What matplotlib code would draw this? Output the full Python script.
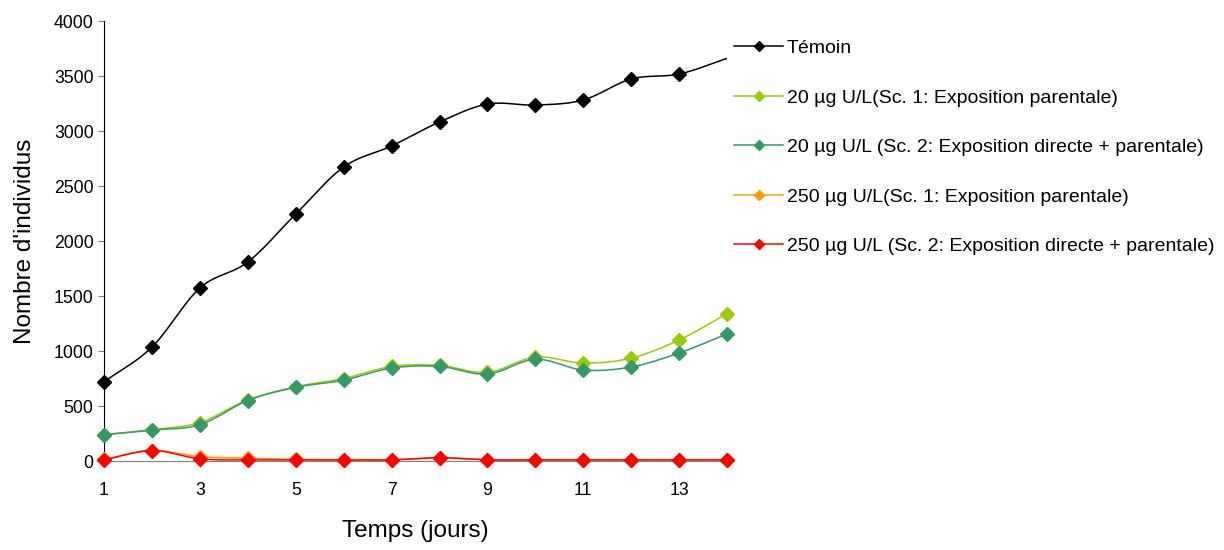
import numpy as np
import matplotlib
matplotlib.use("Agg")
import matplotlib.pyplot as plt

plt.rcParams['font.family'] = ['Liberation Sans', 'DejaVu Sans']

jours = list(range(1, 15))
temoin = [720, 1036, 1573, 1809, 2245, 2673, 2864, 3082, 3245, 3236, 3282, 3473, 3518, 3660]
u20_sc1 = [240, 285, 350, 555, 675, 750, 860, 870, 805, 945, 890, 936, 1100, 1340]
u20_sc2 = [240, 280, 330, 550, 670, 735, 845, 860, 790, 925, 827, 855, 982, 1155]
u250_sc1 = [15, 95, 40, 25, 15, 12, 12, 30, 12, 12, 12, 12, 12, 12]
u250_sc2 = [10, 95, 20, 10, 10, 10, 10, 30, 10, 10, 10, 10, 10, 10]

series = [
    ("Témoin", temoin, "#000000"),
    ("20 µg U/L(Sc. 1: Exposition parentale)", u20_sc1, "#99CC00"),
    ("20 µg U/L (Sc. 2: Exposition directe + parentale)", u20_sc2, "#339966"),
    ("250 µg U/L(Sc. 1: Exposition parentale)", u250_sc1, "#FF9900"),
    ("250 µg U/L (Sc. 2: Exposition directe + parentale)", u250_sc2, "#FF0000"),
]


def smooth(x, y, n=20):
    # catmull-rom, like excel smoothed lines
    x = np.asarray(x, float)
    y = np.asarray(y, float)
    px = np.concatenate([[2 * x[0] - x[1]], x, [2 * x[-1] - x[-2]]])
    py = np.concatenate([[2 * y[0] - y[1]], y, [2 * y[-1] - y[-2]]])
    xs, ys = [], []
    t = np.linspace(0, 1, n, endpoint=False)
    for i in range(1, len(px) - 2):
        for p, out in ((px, xs), (py, ys)):
            p0, p1, p2, p3 = p[i - 1], p[i], p[i + 1], p[i + 2]
            out.extend(0.5 * (2 * p1 + (-p0 + p2) * t + (2 * p0 - 5 * p1 + 4 * p2 - p3) * t ** 2
                              + (-p0 + 3 * p1 - 3 * p2 + p3) * t ** 3))
    xs.append(x[-1])
    ys.append(y[-1])
    return xs, ys


fig = plt.figure(figsize=(12.24, 5.5), dpi=100)
ax = fig.add_axes([0.085, 0.1618, 0.509, 0.80])

handles = []
for idx, (label, vals, col) in enumerate(series):
    sx, sy = smooth(jours, vals)
    ax.plot(sx, sy, color=col, linewidth=1.1, zorder=2 + idx)
    n = 13 if idx == 0 else len(jours)
    ax.plot(jours[:n], vals[:n], linestyle='none', marker='D', markersize=7,
            color=col, zorder=2 + idx, clip_on=False)
    h, = ax.plot([], [], color=col, linewidth=1.1, marker='D', markersize=5.5)
    handles.append(h)

ax.set_xlim(1, 14)
ax.set_ylim(0, 4000)
ax.set_xticks(range(1, 14, 2))
ax.set_yticks(range(0, 4001, 500))
ax.tick_params(axis='both', labelsize=12.7, direction='out', length=4, color='#808080')
ax.tick_params(axis='x', pad=11)
ax.spines['top'].set_visible(False)
ax.spines['right'].set_visible(False)
ax.spines['bottom'].set_color('#808080')
ax.spines['left'].set_color('black')

ax.set_xlabel("Temps (jours)", fontsize=17.5, labelpad=15)
ax.set_ylabel("Nombre d'individus", fontsize=17.5, labelpad=13)

fig.legend(handles, [s[0] for s in series], loc='upper left',
           bbox_to_anchor=(0.592, 0.946), frameon=False, fontsize=14,
           handlelength=2.5, handletextpad=0.2, labelspacing=1.64, borderpad=0)

fig.savefig("out.png", dpi=100)
